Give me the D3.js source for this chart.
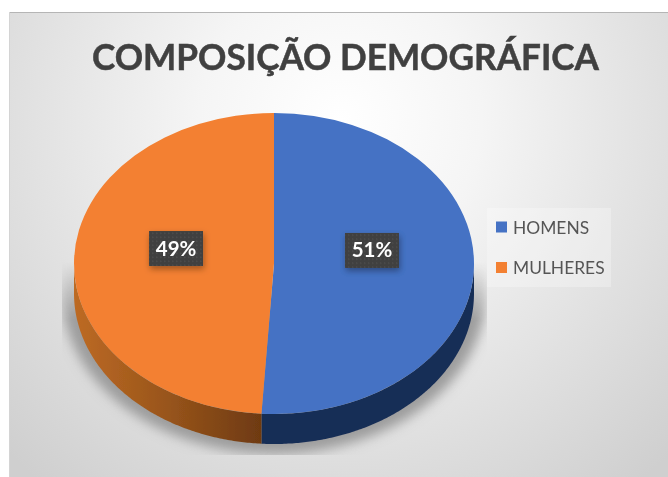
<!DOCTYPE html>
<html lang="pt">
<head>
<meta charset="utf-8">
<title>Composição demográfica</title>
<script src="https://d3js.org/d3.v7.min.js"></script>
<style>
  html, body { margin: 0; padding: 0; background: #fff; }
  svg { display: block; }
  text { font-family: Lato, "Open Sans", sans-serif; }
</style>
</head>
<body>
<script>
// data
var categories = ["HOMENS", "MULHERES"];
var values = [51, 49];
var topColors = ["#4472c4", "#f38031"];
var chartTitle = "COMPOSIÇÃO DEMOGRÁFICA";

var width = 668, height = 477;
var cx = 274, cy = 263.5, rx = 200, squash = 0.7525, depth = 30;

var svg = d3.select("body").append("svg")
  .attr("width", width)
  .attr("height", height);

var defs = svg.append("defs");

// chart background
var bg = defs.append("radialGradient").attr("id", "bg")
  .attr("gradientUnits", "userSpaceOnUse")
  .attr("cx", 340).attr("cy", 120).attr("r", 470);
bg.append("stop").attr("offset", "0").attr("stop-color", "#ffffff");
bg.append("stop").attr("offset", "0.3").attr("stop-color", "#f5f5f5");
bg.append("stop").attr("offset", "1").attr("stop-color", "#cfcfcf");

// orange side gets darker toward the front
var side = defs.append("linearGradient").attr("id", "orangeSide")
  .attr("gradientUnits", "userSpaceOnUse")
  .attr("x1", -rx).attr("x2", -12).attr("y1", 0).attr("y2", 0);
side.append("stop").attr("offset", "0").attr("stop-color", "#bd6a24");
side.append("stop").attr("offset", "0.45").attr("stop-color", "#9c571c");
side.append("stop").attr("offset", "1").attr("stop-color", "#6e3a11");

defs.append("filter").attr("id", "blur")
  .attr("x", "-20%").attr("y", "-20%").attr("width", "140%").attr("height", "140%")
  .append("feGaussianBlur").attr("stdDeviation", 6);

defs.append("filter").attr("id", "soft")
  .attr("filterUnits", "userSpaceOnUse")
  .attr("x", 0).attr("y", 0).attr("width", width).attr("height", height)
  .append("feGaussianBlur").attr("stdDeviation", 0.5);

var fade = defs.append("linearGradient").attr("id", "fade")
  .attr("x1", 0).attr("x2", 0).attr("y1", 0).attr("y2", 1);
fade.append("stop").attr("offset", "0").attr("stop-color", "#000");
fade.append("stop").attr("offset", "0.3").attr("stop-color", "#fff");
fade.append("stop").attr("offset", "1").attr("stop-color", "#fff");
defs.append("mask").attr("id", "shadowMask")
  .attr("maskUnits", "userSpaceOnUse")
  .attr("x", 0).attr("y", 0).attr("width", width).attr("height", height)
  .append("rect")
  .attr("x", 62).attr("y", 262).attr("width", 425).attr("height", 193)
  .attr("fill", "url(#fade)");

// dotted texture of the label boxes
var dots = defs.append("pattern").attr("id", "dots")
  .attr("patternUnits", "userSpaceOnUse").attr("width", 4).attr("height", 4);
dots.append("rect").attr("width", 4).attr("height", 4).attr("fill", "#3f3f3f");
dots.append("rect").attr("width", 1.5).attr("height", 1.5).attr("fill", "#4f4f4f");

var labelShadow = defs.append("filter").attr("id", "labelShadow")
  .attr("x", "-30%").attr("y", "-30%").attr("width", "160%").attr("height", "170%");
labelShadow.append("feDropShadow")
  .attr("dx", 1).attr("dy", 3).attr("stdDeviation", 3)
  .attr("flood-color", "#000").attr("flood-opacity", 0.35);

var root = svg.append("g").attr("filter", "url(#soft)");

// frame
root.append("rect")
  .attr("x", 9).attr("y", 12)
  .attr("width", width - 9).attr("height", height - 12)
  .attr("fill", "url(#bg)");
root.append("line")
  .attr("x1", 9).attr("x2", width).attr("y1", 12.5).attr("y2", 12.5)
  .attr("stroke", "#b5b5b5");
root.append("line")
  .attr("x1", 9.5).attr("x2", 9.5).attr("y1", 12).attr("y2", height)
  .attr("stroke", "#d4d4d4");

// title
root.append("text")
  .attr("x", 345.5).attr("y", 70)
  .attr("text-anchor", "middle")
  .attr("font-size", 36)
  .attr("font-weight", 700)
  .attr("textLength", 507)
  .attr("lengthAdjust", "spacingAndGlyphs")
  .attr("fill", "#404040")
  .attr("stroke", "#404040")
  .attr("stroke-width", 0.5)
  .text(chartTitle);

// pie
var pie = d3.pie().sort(null).value(function(d) { return d; });
var slices = pie(values);

// ground shadow
root.append("g").attr("mask", "url(#shadowMask)")
  .append("ellipse")
  .attr("cx", cx).attr("cy", cy + 30)
  .attr("rx", rx + 12).attr("ry", rx * squash + 10)
  .attr("fill", "#9c9c9c")
  .attr("filter", "url(#blur)");

var pieG = root.append("g").attr("transform", "translate(" + cx + "," + cy + ")");

// side wall, only the front half of the disc can be seen
var wall = d3.area()
  .x(function(a) { return rx * Math.sin(a); })
  .y0(function(a) { return -rx * squash * Math.cos(a); })
  .y1(function(a) { return -rx * squash * Math.cos(a) + depth; });

var wallFills = ["#192e57", "url(#orangeSide)"];

pieG.selectAll("path.wall")
  .data(slices)
  .enter().append("path")
  .attr("class", "wall")
  .attr("fill", function(d, i) { return wallFills[i]; })
  .attr("d", function(d) {
    var a0 = Math.max(d.startAngle, Math.PI / 2);
    var a1 = Math.min(d.endAngle, Math.PI * 1.5);
    return wall(d3.range(a0, a1, 0.01).concat([a1]));
  });

// top face
var arc = d3.arc().innerRadius(0).outerRadius(rx);
pieG.append("g")
  .attr("transform", "scale(1," + squash + ")")
  .selectAll("path")
  .data(slices)
  .enter().append("path")
  .attr("d", arc)
  .attr("fill", function(d, i) { return topColors[i]; });

// data labels
var labelW = 54, labelH = 35;
var labelG = pieG.selectAll("g.lab")
  .data(slices)
  .enter().append("g")
  .attr("class", "lab")
  .attr("transform", function(d) {
    var c = arc.centroid(d);
    return "translate(" + (c[0] * 0.98) + "," + (c[1] * squash * 0.4 - 14) + ")";
  });
labelG.append("rect")
  .attr("x", -labelW / 2).attr("y", -labelH / 2)
  .attr("width", labelW).attr("height", labelH)
  .attr("fill", "url(#dots)")
  .attr("filter", "url(#labelShadow)");
labelG.append("text")
  .attr("text-anchor", "middle")
  .attr("y", 7)
  .attr("font-size", 20.5)
  .attr("font-weight", 700)
  .attr("fill", "#ffffff")
  .text(function(d) { return d.value + "%"; });

// legend
root.append("rect")
  .attr("x", 487).attr("y", 208)
  .attr("width", 124).attr("height", 79)
  .attr("fill", "#ffffff").attr("fill-opacity", 0.28);

var legendY = d3.scalePoint().domain(categories).range([227, 267.5]);
var legend = root.selectAll("g.legend")
  .data(categories)
  .enter().append("g")
  .attr("class", "legend")
  .attr("transform", function(d) { return "translate(496," + legendY(d) + ")"; });
legend.append("rect")
  .attr("y", -5.5).attr("width", 11).attr("height", 11)
  .attr("fill", function(d, i) { return topColors[i]; });
legend.append("text")
  .attr("x", 17).attr("y", 6.5)
  .attr("font-size", 17.4)
  .attr("fill", "#555555")
  .text(function(d) { return d; });
</script>
</body>
</html>
